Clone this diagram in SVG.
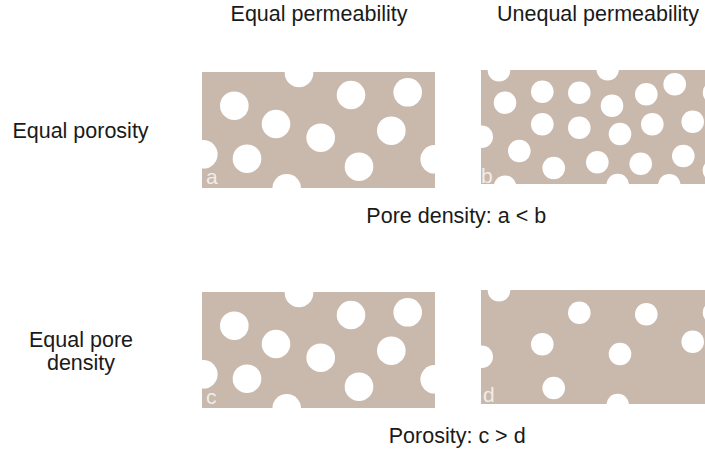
<svg xmlns="http://www.w3.org/2000/svg" width="705" height="450" viewBox="0 0 705 450">
<style>
text{font-family:"Liberation Sans",Arial,sans-serif;font-size:21.5px;fill:#1a1a1a}
.panel{fill:#c9b9ad}
.p{fill:#ffffff}
.lbl{fill:#ffffff;fill-opacity:0.75;font-size:21px}
.c{text-anchor:middle}
</style>
<defs>
<clipPath id="clipA"><rect x="202" y="72" width="233" height="116"/></clipPath>
<clipPath id="clipB"><rect x="481" y="70" width="224" height="114"/></clipPath>
<clipPath id="clipC"><rect x="202" y="292" width="233" height="116"/></clipPath>
<clipPath id="clipD"><rect x="481" y="290" width="224" height="114"/></clipPath>
<g id="poresLarge">
<circle cx="299" cy="73" r="14.3"/>
<circle cx="234.3" cy="105.7" r="14.3"/>
<circle cx="351" cy="95" r="14.3"/>
<circle cx="407.7" cy="92.3" r="14.3"/>
<circle cx="276" cy="124" r="14.3"/>
<circle cx="320.7" cy="137.7" r="14.3"/>
<circle cx="391.3" cy="130.7" r="14.3"/>
<circle cx="203.3" cy="154.3" r="14.3"/>
<circle cx="247" cy="158.7" r="14.3"/>
<circle cx="359" cy="166.7" r="14.3"/>
<circle cx="434.7" cy="159.3" r="14.3"/>
<circle cx="286.7" cy="188.3" r="14.3"/>
</g>
</defs>

<g id="headers">
<text class="c" x="319" y="21">Equal permeability</text>
<text class="c" x="598" y="21">Unequal permeability</text>
</g>
<g id="rowLabels">
<text class="c" x="80.5" y="138.3">Equal porosity</text>
<text class="c" x="81" y="346.7">Equal pore</text>
<text class="c" x="81" y="370">density</text>
</g>

<g id="panelA">
<rect class="panel" x="202" y="72" width="233" height="116"/>
<g clip-path="url(#clipA)" class="p"><use href="#poresLarge"/></g>
<text class="lbl" x="206" y="184.3">a</text>
</g>

<g id="panelB">
<rect class="panel" x="481" y="70" width="224" height="114"/>
<g clip-path="url(#clipB)" class="p">
<circle cx="499" cy="70.3" r="11.3"/>
<circle cx="607.7" cy="69.3" r="11.3"/>
<circle cx="542.3" cy="91.7" r="11.3"/>
<circle cx="579.3" cy="92.7" r="11.3"/>
<circle cx="646.3" cy="94.3" r="11.3"/>
<circle cx="674.7" cy="84.3" r="11.3"/>
<circle cx="505" cy="102.7" r="11.3"/>
<circle cx="612" cy="105.7" r="11.3"/>
<circle cx="714" cy="92.7" r="11.3"/>
<circle cx="542.3" cy="124.3" r="11.3"/>
<circle cx="579.3" cy="127.7" r="11.3"/>
<circle cx="652.3" cy="124.3" r="11.3"/>
<circle cx="692.7" cy="121.7" r="11.3"/>
<circle cx="620" cy="134" r="11.3"/>
<circle cx="481.7" cy="136.7" r="11.3"/>
<circle cx="519.3" cy="151" r="11.3"/>
<circle cx="553.7" cy="168" r="11.3"/>
<circle cx="597.3" cy="162.3" r="11.3"/>
<circle cx="640.7" cy="163.7" r="11.3"/>
<circle cx="683.3" cy="156" r="11.3"/>
<circle cx="505" cy="186.7" r="11.3"/>
<circle cx="617.7" cy="185" r="11.3"/>
<circle cx="669.3" cy="185.3" r="11.3"/>
<circle cx="714" cy="170.3" r="11.3"/>
</g>
<text class="lbl" x="481" y="183.3">b</text>
</g>

<g id="panelC">
<rect class="panel" x="202" y="292" width="233" height="116"/>
<g clip-path="url(#clipC)" class="p"><use href="#poresLarge" y="220"/></g>
<text class="lbl" x="206" y="404.3">c</text>
</g>

<g id="panelD">
<rect class="panel" x="481" y="290" width="224" height="114"/>
<g clip-path="url(#clipD)" class="p">
<circle cx="499" cy="290.3" r="11.3"/>
<circle cx="579.3" cy="312.7" r="11.3"/>
<circle cx="646.3" cy="314.3" r="11.3"/>
<circle cx="714" cy="312.7" r="11.3"/>
<circle cx="542.3" cy="344.3" r="11.3"/>
<circle cx="692.7" cy="341.7" r="11.3"/>
<circle cx="620" cy="354" r="11.3"/>
<circle cx="481.7" cy="356.7" r="11.3"/>
<circle cx="553.7" cy="388" r="11.3"/>
<circle cx="617.7" cy="405" r="11.3"/>
</g>
<text class="lbl" x="483" y="402.3">d</text>
</g>

<g id="captions">
<text class="c" x="456.3" y="223.3">Pore density: a &lt; b</text>
<text class="c" x="457.2" y="442.7">Porosity: c &gt; d</text>
</g>
</svg>
